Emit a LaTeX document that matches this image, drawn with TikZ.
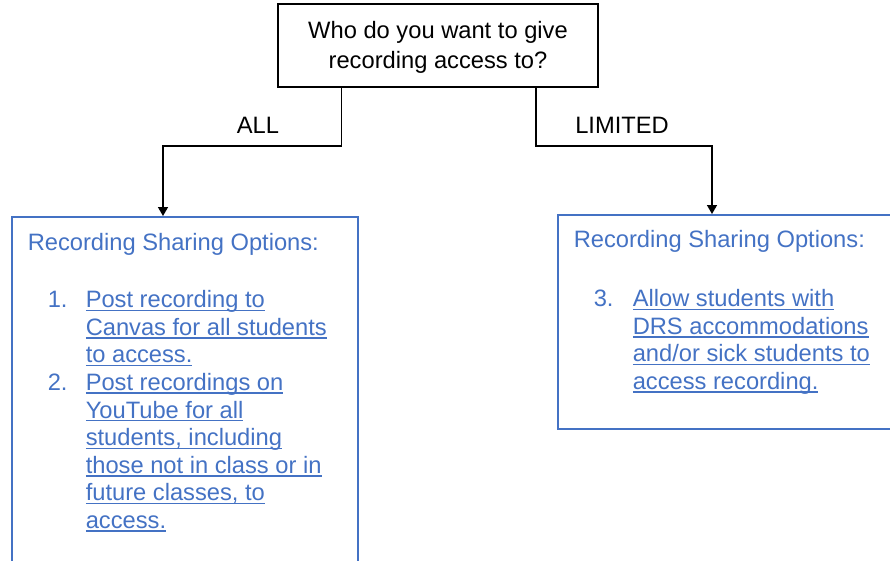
\documentclass[tikz,border=0pt]{standalone}
\usepackage{fontspec}
\setmainfont{Liberation Sans}
\usetikzlibrary{arrows.meta,positioning}
\definecolor{optblue}{RGB}{68,114,196}
\newsavebox{\ulsave}
\newcommand{\ulline}[1]{\sbox{\ulsave}{#1}\rlap{\rule[-3.2pt]{\wd\ulsave}{1.3pt}}\usebox{\ulsave}}
\newcommand{\itemnum}[2]{\llap{\makebox[#1][l]{#2}}}

\begin{document}
\begin{tikzpicture}[x=1pt,y=-1pt,line width=1.5pt,
	question/.style={draw=black,minimum width=320,minimum height=83,align=center,inner sep=0pt,font=\fontsize{23.7}{30}\selectfont},
	branch/.style={inner sep=0pt,font=\fontsize{23.7}{28}\selectfont},
	optbox/.style={draw=optblue,anchor=north west,inner sep=0pt},
	optext/.style={text=optblue,anchor=north west,inner sep=0pt,align=left,font=\fontsize{23.7}{27.6}\selectfont},
	arrowline/.style={draw=black,-{Triangle[length=9pt,width=10pt]}}]

	\clip (0,0) rectangle (890,560); %page

	\node[question] (q) at (438,45.5) {\rule{0pt}{21pt}Who do you want to give\\recording access to?}; %question

	%option boxes
	\node[optbox,minimum width=346,minimum height=380] (allbox) at (11,216) {}; %all box
	\node[optbox,minimum width=360,minimum height=214] (limbox) at (557,214) {}; %limited box

	%branch labels
	\node[branch] (all) at (258,125.5) {ALL};
	\node[branch] (lim) at (622,125.5) {LIMITED};

	%connectors
	\coordinate (allturn) at (163,146);
	\coordinate (limturn) at (712,146);
	\draw[arrowline] ([xshift=64pt]q.south west) |- (allturn) -- (allturn |- allbox.north); %to all
	\draw[arrowline] ([xshift=-63pt]q.south east) |- (limturn) -- (limturn |- limbox.north); %to limited

	%box texts
	\node[optext,anchor=base west] (allhead) at (27,250) {Recording Sharing Options:};
	\node[optext] (alllist) at (85,287.7) {\strut\itemnum{38pt}{1.}\ulline{Post recording to}\\
		\strut\ulline{Canvas for all students}\\
		\strut\ulline{to access.}\\
		\strut\itemnum{38pt}{2.}\ulline{Post recordings on}\\
		\strut\ulline{YouTube for all}\\
		\strut\ulline{students, including}\\
		\strut\ulline{those not in class or in}\\
		\strut\ulline{future classes, to}\\
		\strut\ulline{access.}};
	\node[optext,anchor=base west] (limhead) at (573,247) {Recording Sharing Options:};
	\node[optext] (limlist) at (632,286.7) {\strut\itemnum{39pt}{3.}\ulline{Allow students with}\\
		\strut\ulline{DRS accommodations}\\
		\strut\ulline{and/or sick students to}\\
		\strut\ulline{access recording.}};
\end{tikzpicture}
\end{document}
